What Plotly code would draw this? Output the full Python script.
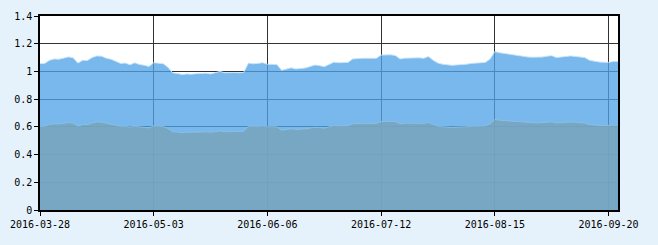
import pandas as pd
import plotly.graph_objects as go

# Trading days (China A-share calendar) shown on the category axis
start_date = "2016-03-28"
end_date = "2016-09-22"
holidays = ["2016-04-04", "2016-05-02", "2016-06-09", "2016-06-10", "2016-09-15", "2016-09-16"]
dates = [d.strftime("%Y-%m-%d") for d in pd.bdate_range(start_date, end_date) if d.strftime("%Y-%m-%d") not in holidays]

upper = [1.056, 1.058, 1.080, 1.090, 1.088, 1.095, 1.105, 1.098, 1.060, 1.080,
         1.078, 1.100, 1.112, 1.110, 1.095, 1.088, 1.070, 1.058, 1.060, 1.048,
         1.062, 1.050, 1.045, 1.036, 1.063, 1.058, 1.056, 1.030, 0.990, 0.985,
         0.978, 0.982, 0.980, 0.984, 0.985, 0.987, 0.982, 0.990, 1.000, 0.990,
         0.992, 0.992, 0.990, 0.993, 1.060, 1.055, 1.058, 1.063, 1.052, 1.053,
         1.050, 1.008, 1.016, 1.026, 1.018, 1.020, 1.025, 1.035, 1.046, 1.042,
         1.034, 1.050, 1.066, 1.063, 1.064, 1.065, 1.090, 1.094, 1.095, 1.095,
         1.095, 1.095, 1.118, 1.121, 1.120, 1.115, 1.090, 1.096, 1.098, 1.098,
         1.098, 1.095, 1.107, 1.080, 1.060, 1.052, 1.047, 1.044, 1.047, 1.048,
         1.052, 1.058, 1.060, 1.060, 1.065, 1.090, 1.143, 1.135, 1.130, 1.124,
         1.118, 1.110, 1.106, 1.104, 1.103, 1.102, 1.104, 1.110, 1.114, 1.100,
         1.106, 1.108, 1.112, 1.108, 1.108, 1.100, 1.080, 1.072, 1.068, 1.066,
         1.065, 1.072, 1.072]

lower = [0.603, 0.604, 0.617, 0.622, 0.621, 0.625, 0.631, 0.627, 0.605, 0.617,
         0.616, 0.628, 0.635, 0.634, 0.625, 0.621, 0.611, 0.604, 0.605, 0.598,
         0.606, 0.600, 0.597, 0.592, 0.607, 0.604, 0.603, 0.588, 0.565, 0.562,
         0.558, 0.561, 0.560, 0.562, 0.562, 0.564, 0.561, 0.565, 0.571, 0.565,
         0.566, 0.566, 0.565, 0.567, 0.605, 0.602, 0.604, 0.607, 0.601, 0.601,
         0.600, 0.576, 0.580, 0.586, 0.581, 0.582, 0.585, 0.591, 0.597, 0.595,
         0.590, 0.600, 0.609, 0.607, 0.608, 0.608, 0.622, 0.625, 0.625, 0.625,
         0.625, 0.625, 0.638, 0.640, 0.640, 0.637, 0.622, 0.626, 0.627, 0.627,
         0.627, 0.625, 0.632, 0.617, 0.605, 0.601, 0.598, 0.596, 0.598, 0.598,
         0.601, 0.604, 0.605, 0.605, 0.608, 0.622, 0.653, 0.648, 0.645, 0.642,
         0.638, 0.634, 0.632, 0.630, 0.630, 0.629, 0.630, 0.634, 0.636, 0.628,
         0.632, 0.633, 0.635, 0.633, 0.633, 0.628, 0.617, 0.612, 0.610, 0.609,
         0.608, 0.612, 0.612]

tick_labels = dates[::24]

fig = go.Figure()
fig.add_trace(go.Scatter(
    x=dates, y=upper, mode="lines", fill="tozeroy",
    line=dict(color="rgba(200,228,250,0.9)", width=1),
    fillcolor="rgba(80,162,230,0.77)", hoverinfo="skip", showlegend=False))
fig.add_trace(go.Scatter(
    x=dates, y=lower, mode="lines", fill="tozeroy",
    line=dict(color="rgba(140,195,230,0.8)", width=1),
    fillcolor="rgba(118,164,188,0.88)", hoverinfo="skip", showlegend=False))

fig.update_layout(
    width=658, height=245,
    margin=dict(l=38, r=40, t=10, b=35),
    paper_bgcolor="rgb(230,242,251)",
    plot_bgcolor="white",
    font=dict(family="DejaVu Sans Mono", size=10, color="black"),
)
fig.update_xaxes(
    type="category", range=[0, len(dates) - 1],
    tickmode="array", tickvals=tick_labels, ticktext=tick_labels,
    showgrid=True, gridcolor="#333333", gridwidth=1,
    showline=True, linecolor="black", linewidth=1.5, mirror=True,
    ticks="outside", ticklen=4, tickcolor="black", tickangle=0,
)
fig.update_yaxes(
    range=[0, 1.4], dtick=0.2, tick0=0,
    showgrid=True, gridcolor="#333333", gridwidth=1, zeroline=False,
    showline=True, linecolor="black", linewidth=1.5, mirror=True,
    ticks="outside", ticklen=4, tickcolor="black",
)

fig.write_html("out.html")
